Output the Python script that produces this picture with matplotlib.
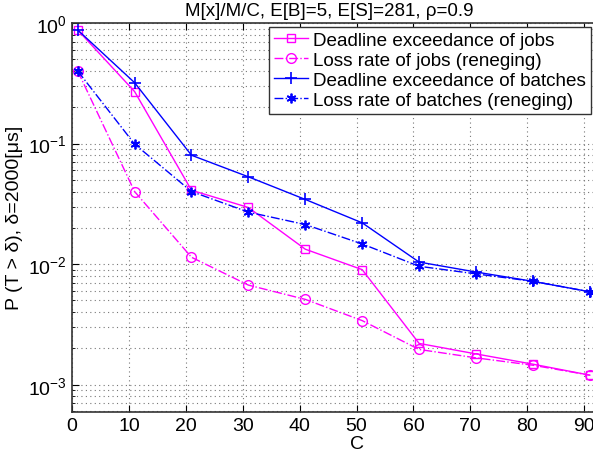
# M[x]/M/C 截止期超时概率与丢失率

import matplotlib.pyplot as plt
from matplotlib.ticker import LogLocator, NullFormatter, MultipleLocator

plt.rcParams['font.family'] = ['Liberation Sans', 'DejaVu Sans']
plt.rcParams['mathtext.fontset'] = 'custom'
plt.rcParams['mathtext.rm'] = 'Liberation Sans'

# 服务台数量 C
C = [1, 11, 21, 31, 41, 51, 61, 71, 81, 91]

# 各曲线数值
deadline_jobs = [0.875, 0.27, 0.041, 0.0295, 0.0133, 0.009, 0.0022, 0.0018, 0.00148, 0.0012]
loss_jobs = [0.40, 0.040, 0.0114, 0.0067, 0.0051, 0.0034, 0.00196, 0.00167, 0.00145, 0.0012]
deadline_batches = [0.875, 0.32, 0.080, 0.053, 0.0344, 0.022, 0.0104, 0.0086, 0.0072, 0.0059]
loss_batches = [0.40, 0.099, 0.040, 0.027, 0.0213, 0.0147, 0.0096, 0.0083, 0.0072, 0.0059]

labels = ['Deadline exceedance of jobs', 'Loss rate of jobs (reneging)',
          'Deadline exceedance of batches', 'Loss rate of batches (reneging)']

fig = plt.figure(figsize=(5.93, 4.56), dpi=100)
# 坐标区右侧超出图片（原图被裁切）
ax = fig.add_axes([72 / 593, 43.3 / 456, 569 / 593, 388.7 / 456])

ax.plot(C, deadline_jobs, '-', color='#ff00ff', marker='s', mfc='none', ms=6, lw=1, label=labels[0])
ax.plot(C, loss_jobs, '-.', color='#ff00ff', marker='o', mfc='none', ms=7, lw=1, label=labels[1])
ax.plot(C, deadline_batches, '-', color='#0000ff', marker='+', ms=8, mew=1.2, lw=1, label=labels[2])
ax.plot(C, loss_batches, '-.', color='#0000ff', marker=(6, 2, 0), ms=7, mew=1.3, lw=1, label=labels[3])

ax.set_yscale('log')
ax.set_xlim(0, 100)
ax.set_ylim(10 ** -3.224, 1)
ax.xaxis.set_major_locator(MultipleLocator(10))
ax.yaxis.set_major_locator(LogLocator(base=10, numticks=10))
ax.yaxis.set_minor_locator(LogLocator(base=10, subs=range(2, 10), numticks=20))
ax.yaxis.set_minor_formatter(NullFormatter())

ax.grid(True, which='major', ls=(0, (1, 3)), color='#777777', lw=0.8)
ax.grid(True, which='minor', axis='y', ls=(0, (1, 3)), color='#777777', lw=0.8)
ax.tick_params(which='both', direction='in', top=True, right=False, labelsize=14)
ax.tick_params(which='major', length=5)
ax.tick_params(which='minor', length=2.5)
for s in ['top', 'bottom', 'left']:
    ax.spines[s].set_linewidth(1.2)
    ax.spines[s].set_color('#333333')
ax.spines['right'].set_visible(False)

ax.set_xlabel('C', fontsize=14, labelpad=1)
ax.set_ylabel('P (T > δ), δ=2000[μs]', fontsize=14, labelpad=4)
fig.text(329 / 593, 1 - 11 / 456, 'M[x]/M/C, E[B]=5, E[S]=281, ρ=0.9',
         ha='center', va='center', fontsize=13.5)

leg = ax.legend(loc='upper left', bbox_to_anchor=((269 - 72) / 569, (456 - 43.3 - 28) / 388.7),
                fontsize=13.6, frameon=True, fancybox=False, handlelength=1.8,
                borderpad=0.25, labelspacing=0.15, handletextpad=0.3, borderaxespad=0)
leg.get_frame().set_edgecolor('#333333')
leg.get_frame().set_linewidth(1.0)
leg.get_frame().set_alpha(1)

plt.savefig('out.png', dpi=100)
